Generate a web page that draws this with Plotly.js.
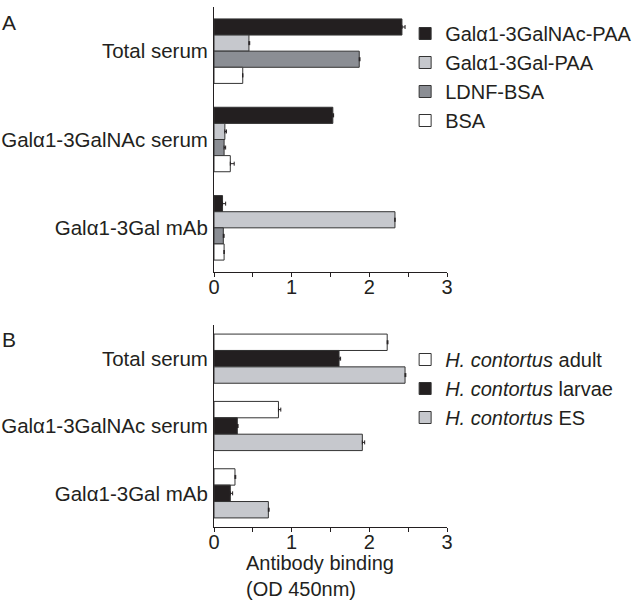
<!DOCTYPE html>
<html>
<head>
<meta charset="utf-8">
<script src="https://cdn.plot.ly/plotly-3.0.1.min.js"></script>
<style>html,body{margin:0;padding:0;background:#fff;}#chart{width:636px;height:603px;}</style>
</head>
<body>
<div id="chart"></div>
<script>
// ---------- data ----------
const categories = ['Total serum', 'Galα1-3GalNAc serum', 'Galα1-3Gal mAb'];

// Panel A
const seriesNamesA = ['Galα1-3GalNAc-PAA', 'Galα1-3Gal-PAA', 'LDNF-BSA', 'BSA'];
const galNAcPAA = [2.42, 1.53, 0.11];
const galPAA    = [0.45, 0.14, 2.33];
const ldnfBSA   = [1.87, 0.13, 0.12];
const bsa       = [0.37, 0.21, 0.13];
const galNAcPAAErr = [0.04, 0.01, 0.04];
const galPAAErr    = [0.01, 0.02, 0.00];
const ldnfBSAErr   = [0.01, 0.02, 0.01];
const bsaErr       = [0.00, 0.05, 0.00];

// Panel B
const seriesNamesB = ['<i>H. contortus</i> adult', '<i>H. contortus</i> larvae', '<i>H. contortus</i> ES'];
const adult  = [2.23, 0.83, 0.27];
const larvae = [1.61, 0.30, 0.21];
const es     = [2.46, 1.91, 0.70];
const adultErr  = [0.01, 0.03, 0.01];
const larvaeErr = [0.02, 0.01, 0.03];
const esErr     = [0.01, 0.03, 0.01];

const xTicks = [0, 1, 2, 3];
const xTitle = 'Antibody binding<br>(OD 450nm)';

// ---------- styling ----------
const INK = '#231f20';
const FONT = 'Liberation Sans, Arial, sans-serif';
const colorsA = ['#231f20', '#c6c8cd', '#8b8e94', '#ffffff'];
const colorsB = ['#ffffff', '#231f20', '#c6c8cd'];

function barTrace(name, vals, errs, color, xa, ya, legend) {
  return {
    type: 'bar', orientation: 'h', name: name,
    x: vals, y: categories, xaxis: xa, yaxis: ya, legend: legend,
    marker: {color: color, line: {color: '#333333', width: 1}},
    error_x: {type: 'data', symmetric: false, array: errs, arrayminus: errs.map(() => 0),
              color: INK, thickness: 1, width: 2},
    hoverinfo: 'x+y+name'
  };
}

const dataA = [galNAcPAA, galPAA, ldnfBSA, bsa];
const errA = [galNAcPAAErr, galPAAErr, ldnfBSAErr, bsaErr];
const dataB = [adult, larvae, es];
const errB = [adultErr, larvaeErr, esErr];

const traces = [];
seriesNamesA.forEach((n, i) => traces.push(barTrace(n, dataA[i], errA[i], colorsA[i], 'x', 'y', 'legend')));
seriesNamesB.forEach((n, i) => traces.push(barTrace(n, dataB[i], errB[i], colorsB[i], 'x2', 'y2', 'legend2')));

const W = 636, H = 603;
const xDom = [214 / W, 447 / W];
const yDomA = [1 - 272 / H, 1 - 7 / H];
const yDomB = [1 - 527 / H, 1 - 325 / H];

function xAxis(anchor) {
  return {
    domain: xDom, anchor: anchor, range: [0, 3], tickvals: xTicks,
    ticks: 'outside', ticklen: 4, tickcolor: INK, tickwidth: 1,
    minor: {dtick: 0.5, tick0: 0, ticks: 'outside', ticklen: 4, tickcolor: INK, tickwidth: 1, showgrid: false},
    showline: true, linecolor: INK, linewidth: 1, showgrid: false, zeroline: false,
    tickfont: {family: FONT, size: 20, color: INK}, ticklabelstandoff: -7, fixedrange: true
  };
}
function yAxis(anchor, dom) {
  return {
    domain: dom, anchor: anchor, type: 'category', range: [2.5, -0.5],
    ticks: '', showline: true, linecolor: INK, linewidth: 1, showgrid: false, zeroline: false,
    tickfont: {family: FONT, size: 20.5, color: INK}, ticklabelstandoff: 1, fixedrange: true
  };
}
function edgeAxis(over, anchor, dom, edges) {
  return {
    overlaying: over, anchor: anchor, domain: dom, side: 'left', type: 'linear', range: [2.5, -0.5],
    tickvals: edges, ticktext: edges.map(() => ''), ticks: 'outside', ticklen: 3,
    tickcolor: INK, tickwidth: 1, showline: false, showgrid: false, zeroline: false, fixedrange: true
  };
}

const legendFont = {family: FONT, size: 20, color: INK};
const layout = {
  width: W, height: H, autosize: false,
  margin: {l: 0, r: 0, t: 0, b: 0, autoexpand: false},
  paper_bgcolor: '#ffffff', plot_bgcolor: 'rgba(0,0,0,0)',
  barmode: 'group', bargap: 0.27, bargroupgap: 0,
  showlegend: true,
  font: {family: FONT, size: 20, color: INK},
  xaxis: xAxis('y'),
  yaxis: yAxis('x', yDomA),
  xaxis2: xAxis('y2'),
  yaxis2: yAxis('x2', yDomB),
  yaxis3: edgeAxis('y', 'x', yDomA, [0.36, 1.36, 2.35]),
  yaxis4: edgeAxis('y2', 'x2', yDomB, [-0.33, 0.66, 1.66, 2.36]),
  legend: {x: 0.637, y: 1 - 14 / H, xanchor: 'left', yanchor: 'top', font: legendFont,
           bgcolor: 'rgba(0,0,0,0)', borderwidth: 0, traceorder: 'normal'},
  legend2: {x: 0.637, y: 1 - 340 / H, xanchor: 'left', yanchor: 'top', font: legendFont,
            bgcolor: 'rgba(0,0,0,0)', borderwidth: 0, traceorder: 'normal'},
  annotations: [
    {text: 'A', xref: 'paper', yref: 'paper', x: 0, y: 1 - 22 / H, xanchor: 'left', yanchor: 'middle',
     showarrow: false, font: {family: FONT, size: 21, color: INK}},
    {text: 'B', xref: 'paper', yref: 'paper', x: 0, y: 1 - 339 / H, xanchor: 'left', yanchor: 'middle',
     showarrow: false, font: {family: FONT, size: 21, color: INK}},
    {text: xTitle, xref: 'paper', yref: 'paper', x: 244 / W, y: 1 - 576 / H, xanchor: 'left', yanchor: 'middle',
     align: 'left', showarrow: false, font: {family: FONT, size: 20, color: INK}}
  ]
};

Plotly.newPlot('chart', traces, layout, {displayModeBar: false, staticPlot: true});
</script>
</body>
</html>
